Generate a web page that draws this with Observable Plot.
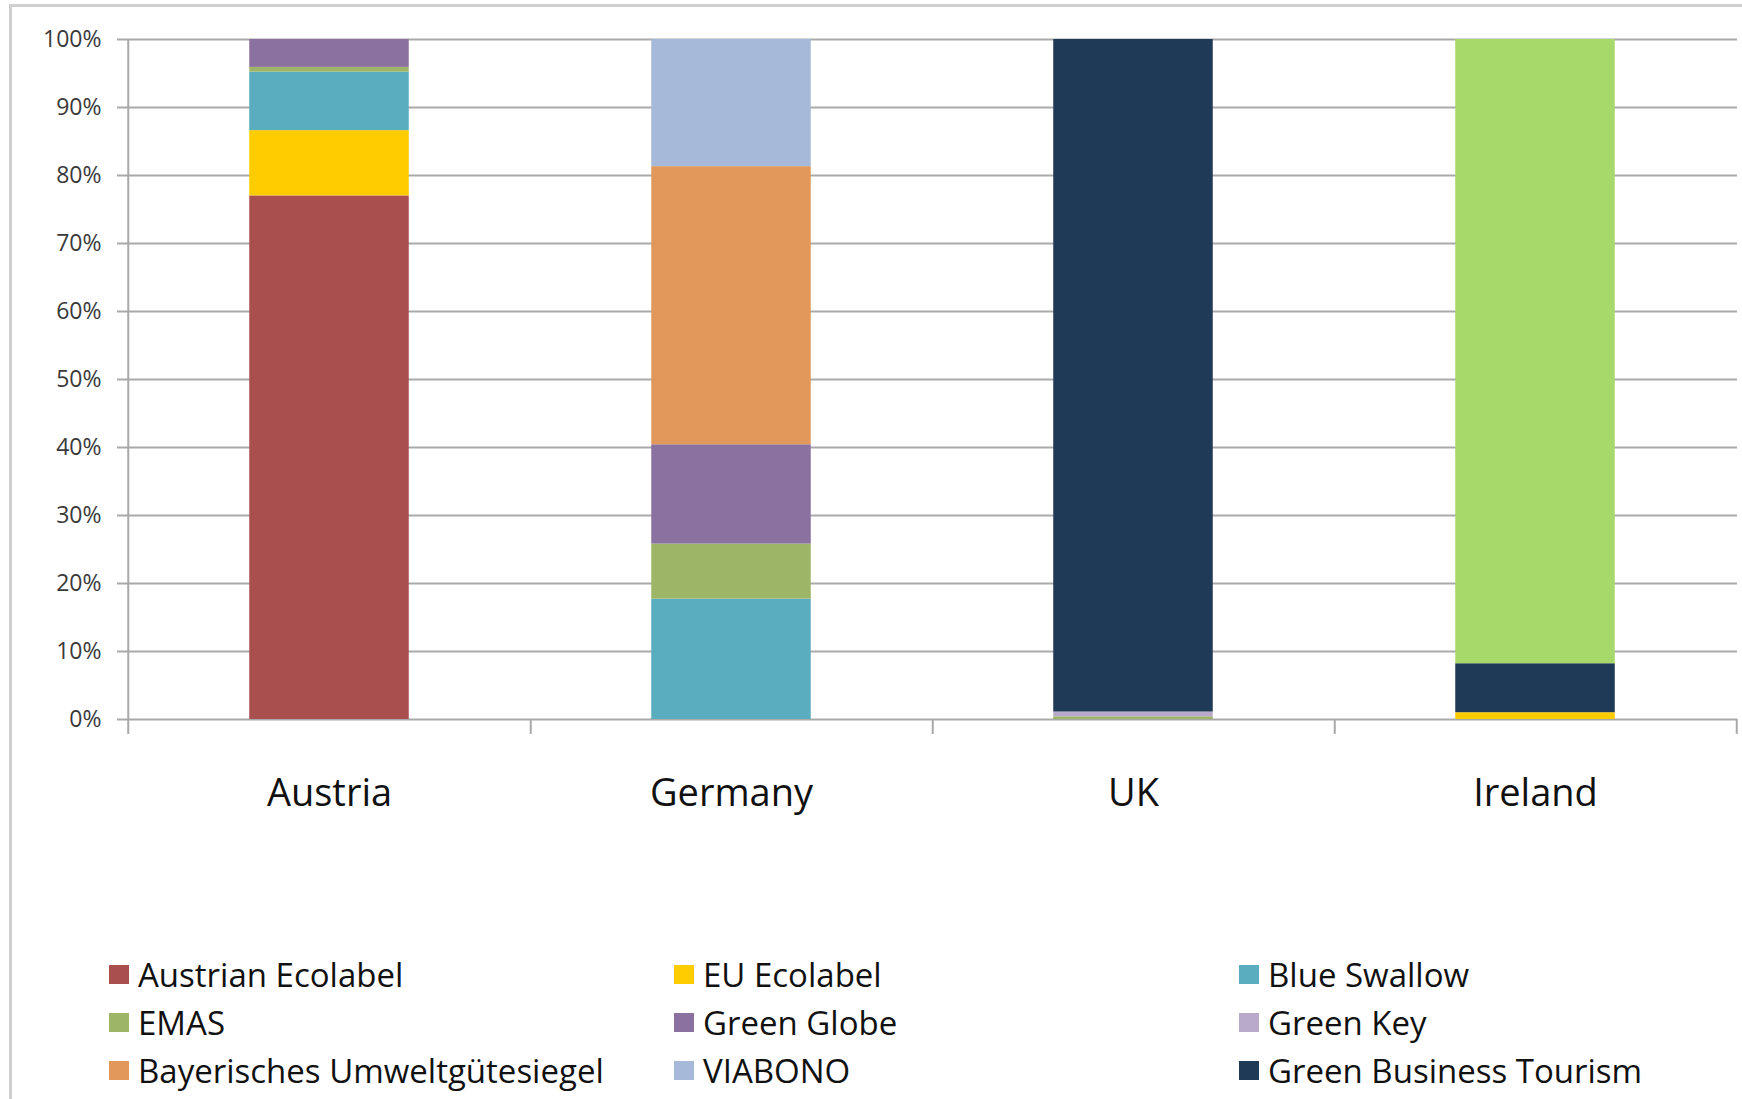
<!DOCTYPE html>
<html><head><meta charset="utf-8">
<script src="https://cdn.jsdelivr.net/npm/d3@7"></script>
<script src="https://cdn.jsdelivr.net/npm/@observablehq/plot@0.6"></script>
<style>
body{margin:0;background:#fff;font-family:"Open Sans",sans-serif;overflow:hidden;}
#frame{position:absolute;left:9px;top:4px;width:1800px;height:1200px;border-left:3px solid #cfcfcf;border-top:3px solid #cfcfcf;}
#chart{position:absolute;left:0;top:0;}
#legend{position:absolute;left:109px;top:950px;display:grid;grid-template-columns:565px 565px 520px;grid-auto-rows:48px;}
.item{display:flex;align-items:center;font-size:33px;color:#111;white-space:nowrap;}
.sw{width:20px;height:19px;margin-right:9px;flex:none;}
</style>
</head><body>
<div id="frame"></div>
<div id="chart"></div>
<div id="legend"></div>
<script>
const countries = ["Austria", "Germany", "UK", "Ireland"];
const labels = ["Austrian Ecolabel", "EU Ecolabel", "Blue Swallow", "EMAS", "Green Globe", "Green Key", "Bayerisches Umweltgütesiegel", "VIABONO", "Green Business Tourism", "Green Hospitality Award"];
const colors = ["#a94f4d", "#ffcc00", "#5aacbf", "#9db566", "#8a71a0", "#b9aacc", "#e2985a", "#a7b9d9", "#1f3a56", "#a6d96a"];
const austria = [77.0, 9.6, 8.6, 0.7, 4.1, 0, 0, 0, 0, 0];
const germany = [0, 0, 17.7, 8.1, 14.6, 0, 40.9, 18.7, 0, 0];
const uk = [0, 0, 0, 0.4, 0, 0.7, 0, 0, 98.9, 0];
const ireland = [0, 1.0, 0, 0, 0, 0, 0, 0, 7.2, 91.8];
const yTicks = [0, 10, 20, 30, 40, 50, 60, 70, 80, 90, 100];
const legendCount = 9;

const series = [austria, germany, uk, ireland];
const rows = [];
countries.forEach((c, i) => {
  labels.forEach((l, j) => {
    if (series[i][j] > 0) rows.push({country: c, label: l, value: series[i][j]});
  });
});

const W = 1742, mL = 127, mR = 5;
const half = (W - mL - mR) / countries.length / 2;
const barInset = half - 80;
const grid = "#a9a9a9";

const chart = Plot.plot({
  width: W, height: 840,
  marginTop: 39, marginLeft: mL, marginRight: mR, marginBottom: 121,
  x: {domain: countries, padding: 0, label: null},
  y: {domain: [0, 100], label: null},
  color: {domain: labels, range: colors},
  style: {fontFamily: "Open Sans, sans-serif", background: "transparent", overflow: "visible"},
  marks: [
    Plot.gridY(yTicks, {stroke: grid, strokeOpacity: 1, strokeWidth: 2}),
    Plot.barY(rows, {x: "country", y: "value", fill: "label", order: null, insetLeft: barInset, insetRight: barInset}),
    Plot.ruleX(countries, {x: d => d, dx: half, y1: 0, y2: -2.2, stroke: grid, strokeWidth: 2}),
    Plot.ruleX([countries[0]], {x: d => d, dx: -half, y1: -2.2, y2: 100, stroke: grid, strokeWidth: 2}),
    Plot.axisY(yTicks, {tickFormat: d => d + "%", tickSize: 10, tickPadding: 16, fontSize: 23, stroke: grid, strokeWidth: 2, fill: "#3a3a3a"}),
    Plot.axisX({tickSize: 0, tickPadding: 60, fontSize: 38, fill: "#111"})
  ]
});
document.getElementById("chart").appendChild(chart);

const legend = document.getElementById("legend");
labels.slice(0, legendCount).forEach((l, i) => {
  const it = document.createElement("div");
  it.className = "item";
  const sw = document.createElement("span");
  sw.className = "sw";
  sw.style.background = colors[i];
  it.appendChild(sw);
  it.appendChild(document.createTextNode(l));
  legend.appendChild(it);
});
</script>
</body></html>
